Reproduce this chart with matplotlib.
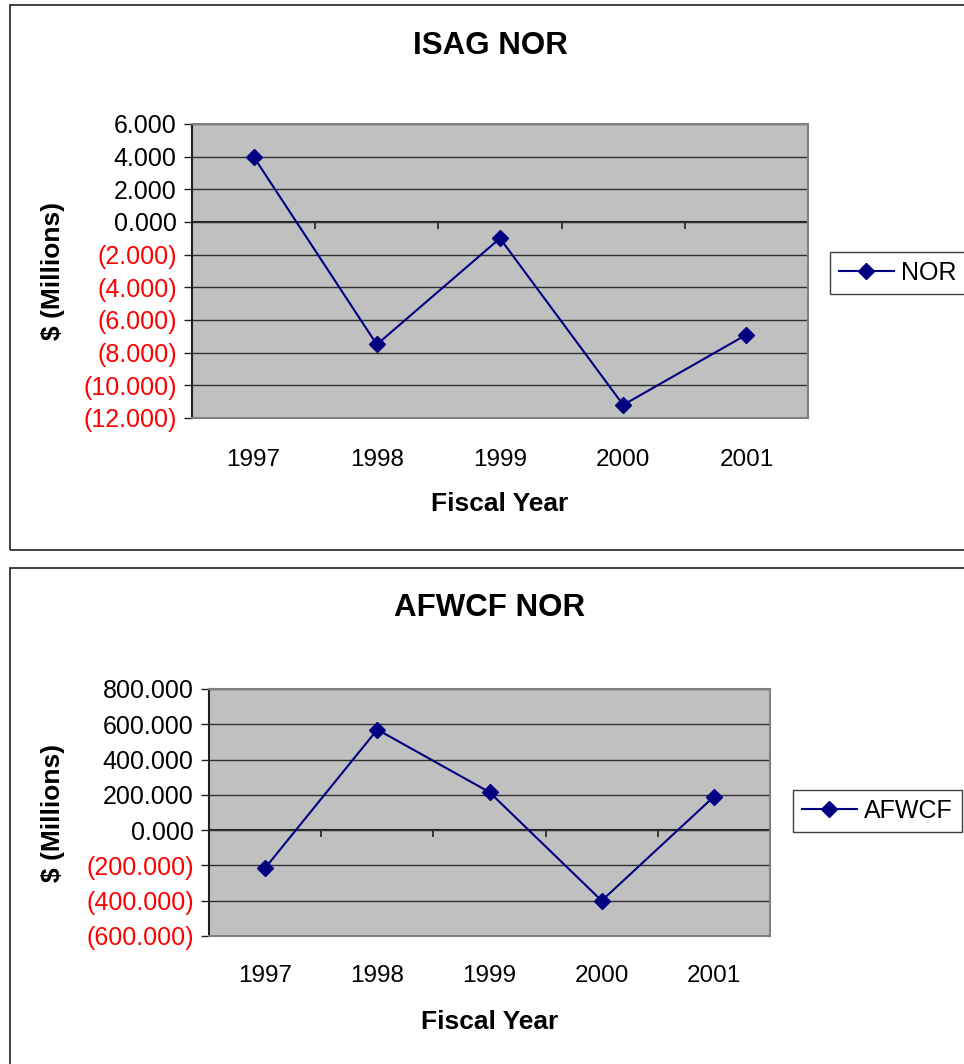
import matplotlib
matplotlib.use("Agg")
import matplotlib.pyplot as plt
from matplotlib.patches import Rectangle
from matplotlib.ticker import FuncFormatter

plt.rcParams['font.family'] = ['Liberation Sans', 'DejaVu Sans']

# data ($ millions)
years = ['1997', '1998', '1999', '2000', '2001']
isag_nor = [4.0, -7.5, -1.0, -11.2, -6.9]
afwcf_nor = [-215.0, 570.0, 215.0, -400.0, 190.0]

isag_ticks = [6, 4, 2, 0, -2, -4, -6, -8, -10, -12]
afwcf_ticks = [800, 600, 400, 200, 0, -200, -400, -600]

W, H = 964, 1064
fig = plt.figure(figsize=(W / 100, H / 100), dpi=100)

navy = '#000080'


def fmt(v, pos):
    if v < 0:
        return '(%.3f)' % abs(v)
    return '%.3f' % v


def px_axes(left, top, right, bottom):
    return fig.add_axes([left / W, 1 - bottom / H, (right - left) / W, (bottom - top) / H])


def draw_panel(ax, values, yticks, name, title, title_y, ylab_x, xlab_y, leg_xy, xpad):
    x = list(range(1, len(values) + 1))
    ax.set_facecolor('#c0c0c0')
    ax.plot(x, values, color=navy, lw=1.5, marker='D', ms=8.5, label=name)
    ax.set_xlim(0.5, len(values) + 0.5)
    ax.set_ylim(min(yticks), max(yticks))
    ax.set_yticks(yticks)
    ax.yaxis.set_major_formatter(FuncFormatter(fmt))
    ax.grid(axis='y', color='#303030', lw=1)
    ax.set_axisbelow(True)
    ax.set_xticks(x)
    ax.set_xticklabels(years)
    ax.tick_params(axis='x', length=0, pad=xpad, labelsize=17.5)
    ax.tick_params(axis='y', length=6, width=1, pad=5, labelsize=18, color='#202020')
    for lab, v in zip(ax.get_yticklabels(), yticks):
        lab.set_color('red' if v < 0 else 'black')
    for s in ['top', 'right', 'bottom']:
        ax.spines[s].set_color('#808080')
        ax.spines[s].set_linewidth(1.5)
    ax.spines['left'].set_color('#202020')
    ax.spines['left'].set_linewidth(1.5)

    # category axis crossing at zero, tick marks between the years pointing down
    y0 = (0 - min(yticks)) / (max(yticks) - min(yticks))
    sec = ax.secondary_xaxis(y0)
    sec.xaxis.set_ticks_position('bottom')
    sec.set_xticks([i + 0.5 for i in range(len(values) + 1)])
    sec.set_xticklabels([])
    sec.tick_params(length=5, width=1.2, color='#202020', direction='out')
    for s in ['top', 'bottom']:
        sec.spines[s].set_color('#202020')
        sec.spines[s].set_linewidth(1.5)

    ax.set_ylabel('$ (Millions)', fontsize=19, fontweight='bold')
    ax.yaxis.set_label_coords(ylab_x, 0.5)
    ax.set_xlabel('Fiscal Year', fontsize=19, fontweight='bold')
    ax.xaxis.set_label_coords(0.5, xlab_y)

    fig.text(490 / W, 1 - title_y / H, title, ha='center', va='center',
             fontsize=22.5, fontweight='bold')

    ax.legend(loc='center left', bbox_to_anchor=(leg_xy[0] / W, 1 - leg_xy[1] / H),
              bbox_transform=fig.transFigure, borderaxespad=0, fontsize=18,
              frameon=True, fancybox=False, edgecolor='#404040', framealpha=1,
              handlelength=2.2, borderpad=0.35, handletextpad=0.3)


# panel frames
fig.patches.append(Rectangle((10 / W, 1 - 550 / H), 1, 545 / H, transform=fig.transFigure,
                             fill=False, edgecolor='#202020', lw=1.2))
fig.patches.append(Rectangle((10 / W, -0.1), 1, 0.1 + 1 - 568 / H, transform=fig.transFigure,
                             fill=False, edgecolor='#202020', lw=1.2))

ax1 = px_axes(192, 124, 808, 418)
draw_panel(ax1, isag_nor, isag_ticks, 'NOR', 'ISAG NOR', 46, -0.206, -0.252, (830, 273), 22)

ax2 = px_axes(209, 689, 770, 936)
draw_panel(ax2, afwcf_nor, afwcf_ticks, 'AFWCF', 'AFWCF NOR', 608, -0.257, -0.30, (793, 811), 21)

fig.savefig('out.png', dpi=100)
